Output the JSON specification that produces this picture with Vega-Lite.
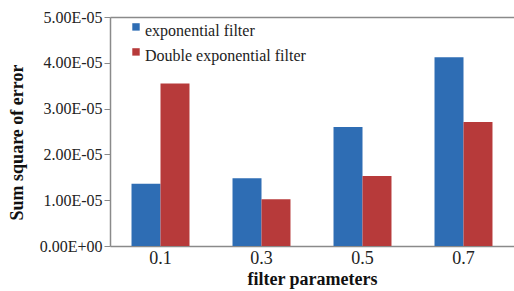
{
  "$schema": "https://vega.github.io/schema/vega-lite/v6.json",
  "autosize": {"type": "none"},
  "padding": {"left": 110, "top": 17, "right": 0, "bottom": 45},
  "width": 404,
  "height": 229,
  "background": "white",
  "config": {
    "font": "Liberation Serif",
    "view": {"stroke": null}
  },
  "data": {
    "values": [
      {"param": "0.1", "filter": "exponential filter", "sse": 0.0000136},
      {"param": "0.1", "filter": "Double exponential filter", "sse": 0.0000355},
      {"param": "0.3", "filter": "exponential filter", "sse": 0.0000148},
      {"param": "0.3", "filter": "Double exponential filter", "sse": 0.0000102},
      {"param": "0.5", "filter": "exponential filter", "sse": 0.0000260},
      {"param": "0.5", "filter": "Double exponential filter", "sse": 0.0000153},
      {"param": "0.7", "filter": "exponential filter", "sse": 0.0000412},
      {"param": "0.7", "filter": "Double exponential filter", "sse": 0.0000271}
    ]
  },
  "mark": {"type": "bar"},
  "encoding": {
    "x": {
      "field": "param",
      "type": "nominal",
      "scale": {"paddingInner": 0.426, "paddingOuter": 0.213},
      "axis": {
        "title": "filter parameters",
        "titleFont": "Liberation Serif",
        "titleFontSize": 18,
        "titleFontWeight": "bold",
        "titleColor": "#111",
        "titleBaseline": "alphabetic",
        "titleY": 38,
        "labelAngle": 0,
        "labelFontSize": 18,
        "labelColor": "#222",
        "labelPadding": 3,
        "ticks": false,
        "domainColor": "#8a8a8a",
        "domainWidth": 1.5
      }
    },
    "xOffset": {
      "field": "filter",
      "type": "nominal",
      "sort": ["exponential filter", "Double exponential filter"],
      "scale": {"paddingInner": 0, "paddingOuter": 0}
    },
    "y": {
      "field": "sse",
      "type": "quantitative",
      "scale": {"domain": [0, 0.00005], "nice": false},
      "axis": {
        "title": "Sum square of error",
        "titleFont": "Liberation Serif",
        "titleFontSize": 18,
        "titleFontWeight": "bold",
        "titleColor": "#111",
        "titleBaseline": "alphabetic",
        "titleX": -88,
        "titleY": 125,
        "values": [0, 0.00001, 0.00002, 0.00003, 0.00004, 0.00005],
        "labelExpr": "datum.value == 0 ? '0.00E+00' : format(datum.value * 100000, '.2f') + 'E-05'",
        "labelFontSize": 16,
        "labelColor": "#222",
        "labelPadding": 2,
        "tickSize": 6,
        "tickColor": "#8a8a8a",
        "domainColor": "#8a8a8a",
        "domainWidth": 1.5,
        "grid": true,
        "gridColor": {"condition": {"test": "datum.value >= 0.00005", "value": "#8a8a8a"}, "value": "transparent"},
        "gridWidth": 1.5
      }
    },
    "color": {
      "field": "filter",
      "type": "nominal",
      "scale": {
        "domain": ["exponential filter", "Double exponential filter"],
        "range": ["#2E6DB4", "#B73A3A"]
      },
      "legend": {
        "title": null,
        "orient": "none",
        "legendX": 18,
        "legendY": 6,
        "padding": 0,
        "symbolType": "M-1,-2.1H1V-0.1H-1Z",
        "symbolSize": 55,
        "symbolStrokeWidth": 0,
        "labelFontSize": 16,
        "labelColor": "#222",
        "labelOffset": 1,
        "labelLimit": 0,
        "rowPadding": 9
      }
    }
  }
}
